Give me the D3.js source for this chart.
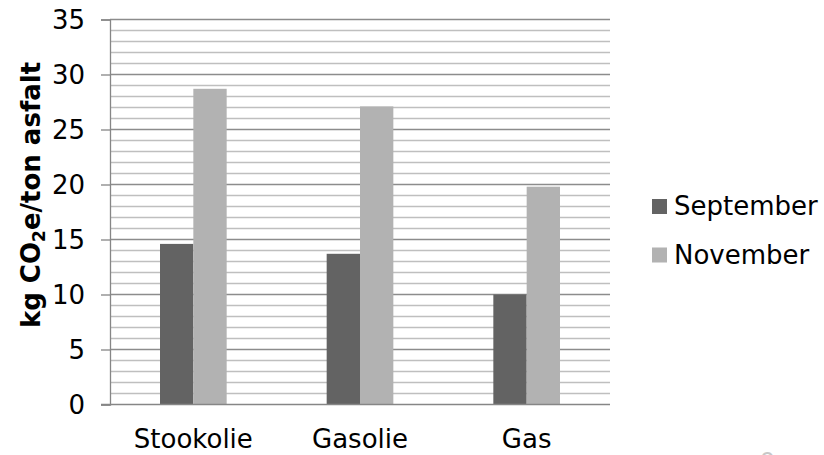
<!DOCTYPE html>
<html>
<head>
<meta charset="utf-8">
<script src="https://cdn.jsdelivr.net/npm/d3@7"></script>
<style>
  html, body { margin: 0; padding: 0; background: #fff; }
  svg { display: block; font-family: "DejaVu Sans", Verdana, sans-serif; }
</style>
</head>
<body>
<svg id="chart" width="824" height="455"></svg>
<script>
// Emissions per ton of asphalt by fuel type, two measurement months
const categories = ["Stookolie", "Gasolie", "Gas"];
const seriesNames = ["September", "November"];
const september = [14.6, 13.7, 10.0];
const november = [28.7, 27.1, 19.8];
const seriesColors = ["#636363", "#b2b2b2"];
const majorTicks = [0, 5, 10, 15, 20, 25, 30, 35];
const minorTicks = d3.range(0, 36, 1).filter(v => v % 5 !== 0);

const seriesValues = [september, november];
const rows = categories.map((c, i) => ({
  category: c,
  values: seriesNames.map((s, j) => ({ series: s, value: seriesValues[j][i], color: seriesColors[j] }))
}));

const svg = d3.select("#chart");
const plot = { left: 110, right: 610, top: 19.5, bottom: 404.5 };
const fontSize = 26;

const y = d3.scaleLinear().domain([0, 35]).range([plot.bottom, plot.top]);
const x0 = d3.scaleBand().domain(categories).range([plot.left, plot.right]).padding(0);
const x1 = d3.scaleBand().domain(seriesNames).range([0, x0.bandwidth()])
  .paddingInner(0).paddingOuter(1.5);

// minor gridlines
svg.append("g").selectAll("line").data(minorTicks).join("line")
  .attr("x1", plot.left).attr("x2", plot.right)
  .attr("y1", d => y(d)).attr("y2", d => y(d))
  .attr("stroke", "#bfbfbf").attr("stroke-width", 1.3);

// major gridlines
svg.append("g").selectAll("line").data(majorTicks.filter(d => d > 0)).join("line")
  .attr("x1", plot.left).attr("x2", plot.right)
  .attr("y1", d => y(d)).attr("y2", d => y(d))
  .attr("stroke", "#8c8c8c").attr("stroke-width", 1.3);

// bars
const groups = svg.append("g").selectAll("g").data(rows).join("g")
  .attr("transform", d => `translate(${x0(d.category)},0)`);
groups.selectAll("rect").data(d => d.values).join("rect")
  .attr("x", d => x1(d.series))
  .attr("width", x1.bandwidth())
  .attr("y", d => y(d.value))
  .attr("height", d => y(0) - y(d.value))
  .attr("fill", d => d.color);

// y axis
const yAxis = d3.axisLeft(y).tickValues(majorTicks).tickSize(9).tickPadding(16);
const gy = svg.append("g").attr("transform", `translate(${plot.left},0)`).call(yAxis);
gy.select(".domain").attr("stroke", "#868686").attr("stroke-width", 1.3);
gy.selectAll(".tick line").attr("stroke", "#868686").attr("stroke-width", 1.3);
gy.selectAll(".tick text").attr("font-size", fontSize).attr("fill", "#000")
  .attr("font-family", "DejaVu Sans, Verdana, sans-serif").attr("dy", "0.36em");

// x axis
const xAxis = d3.axisBottom(x0).tickSize(0).tickPadding(25);
const gx = svg.append("g").attr("transform", `translate(0,${plot.bottom})`).call(xAxis);
gx.select(".domain").attr("stroke", "#868686").attr("stroke-width", 1.3)
  .attr("d", `M${plot.left - 9},0H${plot.right}`);
gx.selectAll(".tick text").attr("font-size", fontSize).attr("fill", "#000")
  .attr("font-family", "DejaVu Sans, Verdana, sans-serif").attr("dy", "0.72em");

// y axis title with subscript
const title = svg.append("text")
  .attr("transform", "translate(40,195) rotate(-90)")
  .attr("text-anchor", "middle")
  .attr("font-size", fontSize).attr("font-weight", "bold").attr("fill", "#000");
title.append("tspan").text("kg CO");
title.append("tspan").attr("font-size", 17).attr("dy", 5).text("2");
title.append("tspan").attr("dy", -5).text("e/ton asfalt");

// legend
const legend = svg.append("g").selectAll("g").data(seriesNames).join("g")
  .attr("transform", (d, i) => `translate(652,${199 + i * 48.5})`);
legend.append("rect").attr("width", 15).attr("height", 15)
  .attr("fill", (d, i) => seriesColors[i]);
legend.append("text").attr("x", 22).attr("y", 16)
  .attr("font-size", fontSize).attr("fill", "#000").text(d => d);

// page number in the corner
svg.append("text").attr("x", 760).attr("y", 470)
  .attr("font-size", 24).attr("fill", "#c8c8c8").text("9");
</script>
</body>
</html>
